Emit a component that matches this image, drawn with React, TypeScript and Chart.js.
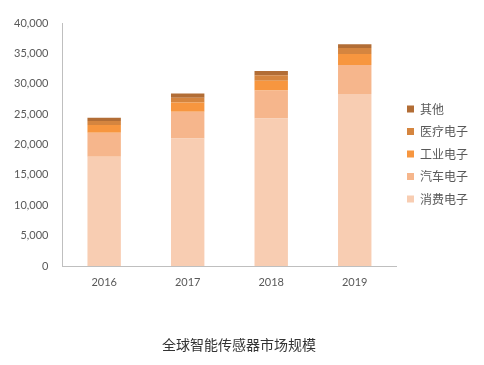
import React, { useEffect, useRef } from "react";
import { Chart, registerables } from "chart.js";

Chart.register(...registerables);

const years = ["2016", "2017", "2018", "2019"];
const consumer = [18000, 21000, 24300, 28300];
const auto = [3950, 4400, 4600, 4800];
const industrial = [1270, 1500, 1600, 1800];
const medical = [660, 800, 900, 1000];
const other = [540, 700, 700, 600];
const seriesNames = ["消费电子", "汽车电子", "工业电子", "医疗电子", "其他"];
const seriesColors = ["#F8CDB2", "#F6B68C", "#F7963F", "#D5853F", "#B26D35"];
const yMax = 40000;
const yStep = 5000;
const chartTitle = "全球智能传感器市场规模";

const legendShift = {
  id: "legendShift",
  afterLayout(chart: any) {
    const lg = chart.legend;
    if (lg) {
      lg.top -= 36;
      lg.bottom -= 36;
    }
  },
};

export default function App() {
  const ref = useRef<HTMLCanvasElement>(null);
  useEffect(() => {
    if (!ref.current) return;
    const values = [consumer, auto, industrial, medical, other];
    const chart = new Chart(ref.current, {
      type: "bar",
      data: {
        labels: years,
        datasets: values.map((v, i) => ({
          label: seriesNames[i],
          data: v,
          backgroundColor: seriesColors[i],
          borderWidth: 0,
          barPercentage: 0.4,
          categoryPercentage: 1,
        })),
      },
      options: {
        responsive: false,
        animation: false,
        devicePixelRatio: 1,
        layout: { padding: { top: 23, left: 0, right: 6, bottom: 8 } },
        scales: {
          x: {
            stacked: true,
            grid: { display: false, drawTicks: false },
            border: { display: true, color: "#BFBFBF", width: 1 },
            ticks: {
              color: "#595959",
              padding: 10,
              font: { family: "Lato, 'Noto Sans CJK SC'", size: 11 },
            },
          },
          y: {
            stacked: true,
            min: 0,
            max: yMax,
            grid: { display: false, drawTicks: false },
            border: { display: true, color: "#BFBFBF", width: 1 },
            ticks: {
              stepSize: yStep,
              color: "#595959",
              padding: 14,
              font: { family: "Lato, 'Noto Sans CJK SC'", size: 11 },
              callback: (v: any) => Number(v).toLocaleString("en-US"),
            },
          },
        },
        plugins: {
          legend: {
            position: "right",
            reverse: true,
            labels: {
              boxWidth: 7,
              boxHeight: 7,
              padding: 10.5,
              color: "#595959",
              font: { family: "'Noto Sans CJK SC'", size: 12 },
            },
          },
          title: {
            display: true,
            text: chartTitle,
            position: "bottom",
            color: "#333333",
            padding: { top: 37, bottom: 4 },
            font: { family: "'Noto Sans CJK SC'", size: 14, weight: "normal" },
          },
          tooltip: { enabled: false },
        },
      },
      plugins: [legendShift],
    });
    return () => chart.destroy();
  }, []);
  return (
    <div style={{ position: "absolute", left: 0, top: 0, width: 484, height: 365, background: "#fff" }}>
      <canvas ref={ref} width={484} height={365} style={{ width: 484, height: 365 }} />
    </div>
  );
}
